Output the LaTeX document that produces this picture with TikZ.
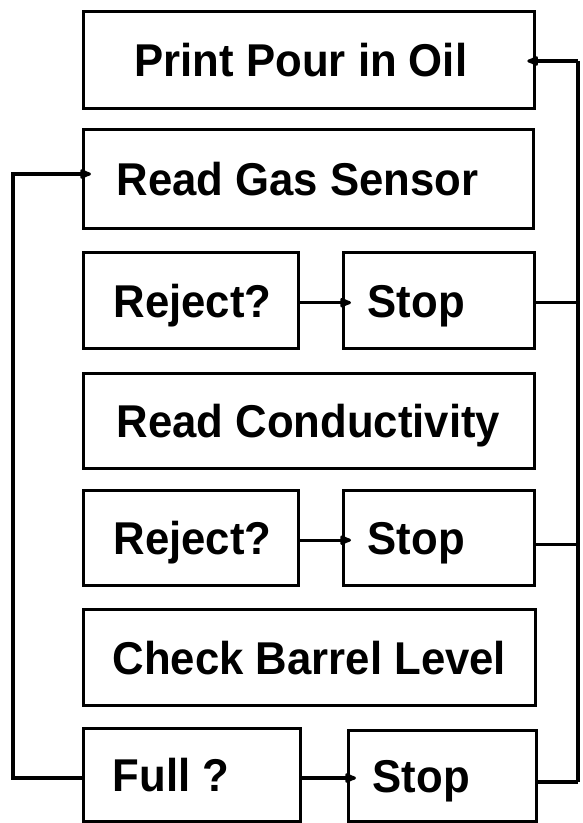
\documentclass[tikz,border=0pt]{standalone}
\usepackage{fontspec}
\newfontfamily\boxfont{Liberation Sans}[FakeStretch=0.95]
\usetikzlibrary{arrows.meta}
\begin{document}
\begin{tikzpicture}[x=1pt,y=-1pt,
  box/.style={draw, line width=3.3pt, rectangle, anchor=north west,
    inner xsep=#1, inner ysep=0pt, text height=33pt, text depth=0pt,
    font=\boxfont\bfseries\fontsize{46}{50}\selectfont},
  line/.style={line width=3.3pt},
  conn/.style={line width=3.3pt, -{Latex[length=15pt,width=12pt,round]}, shorten >=-9pt}
]
\useasboundingbox[fill=white] (0,0) rectangle (582,823);
% boxes
\node[box=51pt, minimum width=451pt, minimum height=97pt] (print) at (82,10) {\makebox[349pt][l]{Print Pour in Oil}};
\node[box=33pt, minimum width=450pt, minimum height=99pt] (gas) at (82,128) {\makebox[384pt][l]{Read Gas Sensor}};
\node[box=30pt, minimum width=215pt, minimum height=96pt] (rej1) at (82,251) {\makebox[155pt][l]{Reject?}};
\node[box=24pt, minimum width=191pt, minimum height=96pt] (stop1) at (342,251) {\makebox[143pt][l]{Stop}};
\node[box=33pt, minimum width=451pt, minimum height=95pt] (cond) at (82,372) {\makebox[385pt][l]{Read Conductivity}};
\node[box=30pt, minimum width=215pt, minimum height=95pt] (rej2) at (82,489) {\makebox[155pt][l]{Reject?}};
\node[box=24pt, minimum width=191pt, minimum height=95pt] (stop2) at (342,489) {\makebox[143pt][l]{Stop}};
\node[box=29pt, minimum width=452pt, minimum height=96pt] (check) at (82,608) {\makebox[394pt][l]{Check Barrel Level}};
\node[box=29pt, minimum width=217pt, minimum height=93pt] (full) at (82,727) {\makebox[159pt][l]{Full ?}};
\node[box=24pt, minimum width=188pt, minimum height=91pt] (stop3) at (347,729) {\makebox[140pt][l]{Stop}};
% right return line
\coordinate (rt) at (578,61);
\coordinate (rb) at (578,782);
\draw[line] (rt) -- (rb);
\draw[conn] (rt) -- (rt -| print.east);
\draw[line] ([yshift=-2pt]stop1.east) -- ([yshift=-2pt]stop1.east -| rt);
\draw[line] ([yshift=-6.5pt]stop2.east) -- ([yshift=-6.5pt]stop2.east -| rt);
\draw[line] (rb -| stop3.east) -- (rb);
% left loop line
\coordinate (lt) at (13,174);
\coordinate (lb) at (13,778);
\draw[conn] (lb -| full.west) -- (lb) -- (lt) -- (lt -| gas.west);
% decision to stop
\draw[conn] ([yshift=-2pt]rej1.east) -- ([yshift=-2pt]rej1.east -| stop1.west);
\draw[conn] ([yshift=-2pt]rej2.east) -- ([yshift=-2pt]rej2.east -| stop2.west);
\draw[conn] (lb -| full.east) -- (lb -| stop3.west);
\end{tikzpicture}
\end{document}
